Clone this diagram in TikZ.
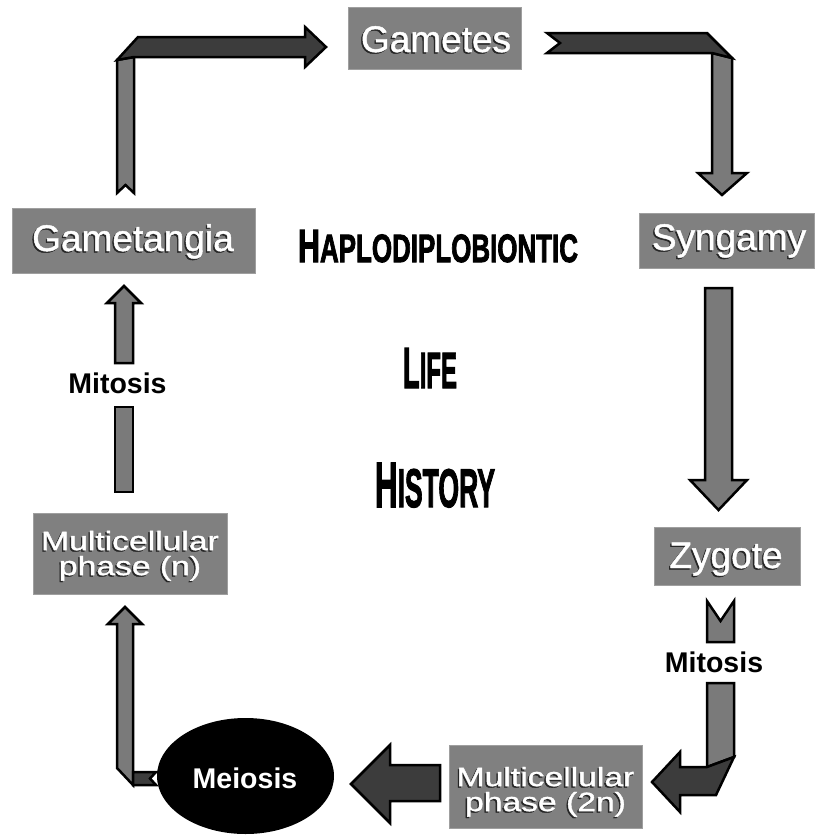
\documentclass[tikz,border=0pt]{standalone}
\usepackage{fontspec}
\setmainfont{Liberation Sans}
\newfontfamily\titlefam{Liberation Sans}[BoldFeatures={FakeBold=2.5}]
\newfontfamily\boxfam{Liberation Sans}[FakeBold=1.2]
\usetikzlibrary{shapes.geometric}
\definecolor{boxgray}{RGB}{128,128,128}
\definecolor{arrgray}{RGB}{122,122,122}
\definecolor{arrdark}{RGB}{60,60,60}
\newcommand\boxfont{\boxfam\fontsize{37}{40}\selectfont}
\newcommand\twofont{\boxfam\fontsize{26.5}{25}\selectfont}
\newcommand\labfont{\fontsize{28.5}{30}\selectfont\bfseries}
\newcommand\emtext[4]{%
  \node[gtxt,text=black!85,font=#3] (#1-s) at ([xshift=-1.4pt,yshift=-1.4pt]#2) {#4};
  \node[gtxt,text=white,font=#3] (#1) at (#2) {#4};}
\newcommand\emtwo[4]{%
  \node[gtwo,text=black!85] (#1-s) at ([xshift=-1.4pt,yshift=-1.4pt]#2) {\scalebox{1.27}[1]{#3}\\\scalebox{1.27}[1]{#4}};
  \node[gtwo,text=white] (#1) at (#2) {\scalebox{1.27}[1]{#3}\\\scalebox{1.27}[1]{#4}};}
\begin{document}
\begin{tikzpicture}[x=1pt,y=-1pt,
  gbox/.style={rectangle,fill=boxgray,draw=gray!75,line width=0.8pt,inner sep=0pt},
  gtxt/.style={anchor=base,inner sep=0pt},
  gtwo/.style={anchor=north,inner sep=0pt,align=center,font=\twofont},
  garrow/.style={draw=black,line width=2.5pt,line join=miter,fill=arrgray},
  darrow/.style={draw=black,line width=2.5pt,line join=miter,fill=arrdark},
  mlabel/.style={anchor=base,inner sep=0pt,font=\labfont,text=black},
  ttl/.style={anchor=base,inner sep=0pt,font=\titlefam\bfseries,text=black}]
\useasboundingbox (0,0) rectangle (814,835);
\fill[white] (0,0) rectangle (814,835);

% ---------- boxes ----------
\node[gbox,minimum width=173pt,minimum height=62pt] (gametes) at (434.5,38) {};
\node[gbox,minimum width=175pt,minimum height=55pt] (syngamy) at (726.5,240.5) {};
\node[gbox,minimum width=243pt,minimum height=65pt] (gametangia) at (133.5,240.5) {};
\node[gbox,minimum width=146pt,minimum height=58pt] (zygote) at (727,556) {};
\node[gbox,minimum width=194pt,minimum height=81pt] (multin) at (130,553.5) {};
\node[gbox,minimum width=193pt,minimum height=83pt] (multi2n) at (545.5,787) {};

\emtext{tgametes}{436,52}{\boxfont}{Gametes}
\emtext{tgametangia}{133,251}{\boxfont}{Gametangia}
\emtext{tsyngamy}{729,250}{\boxfont}{Syngamy}
\emtext{tzygote}{726,568}{\boxfont}{Zygote}
\emtwo{tmultin}{130,530.7}{Multicellular}{phase (n)}
\emtwo{tmulti2n}{545.5,766.7}{Multicellular}{phase (2n)}

% ---------- title ----------
\node[ttl] (haplo) at (438,262) {\resizebox{280pt}{32pt}{{\fontsize{40}{40}\selectfont H}{\fontsize{34}{34}\selectfont APLODIPLOBIONTIC}}};
\node[ttl] (life) at (430,388) {\resizebox{54pt}{40pt}{{\fontsize{40}{40}\selectfont L}{\fontsize{35}{35}\selectfont IFE}}};
\node[ttl] (history) at (435,507) {\resizebox{120pt}{44pt}{{\fontsize{40}{40}\selectfont H}{\fontsize{34}{34}\selectfont ISTORY}}};

% ---------- Gametangia -> Gametes ----------
\draw[garrow] (117,60) -- (134,57) -- (134,193) -- (125.5,185) -- (117,193) -- cycle;
\draw[darrow] (117,60) -- (138,37) -- (305,37) -- (305,27) -- (326,47) -- (305,67) -- (305,57) -- (134,57) -- cycle;

% ---------- Gametes -> Syngamy ----------
\draw[garrow] (712,53) -- (732,58) -- (732,173) -- (747,173) -- (722,195) -- (698,173) -- (712,173) -- cycle;
\draw[darrow] (547,33) -- (707,33) -- (732,58) -- (712,53) -- (547,53) -- (560,43) -- cycle;

% ---------- Syngamy -> Zygote ----------
\draw[garrow] (705,288) -- (732,288) -- (732,480) -- (747,480) -- (718.5,510) -- (690,480) -- (705,480) -- cycle;

% ---------- Zygote -> Multicellular (2n) ----------
\draw[garrow] (707,601) -- (720.5,621) -- (734,601) -- (734,642) -- (707,642) -- cycle;
\node[mlabel] (mitR) at (714,672) {Mitosis};
\draw[garrow] (707,683) -- (734,683) -- (734,757) -- (707,767) -- cycle;
\draw[darrow] (707,767) -- (734,757) -- (716,795) -- (680,795) -- (680,812) -- (652,782) -- (680,752) -- (680,767) -- cycle;

% ---------- Multicellular (2n) -> Meiosis ----------
\draw[darrow] (440,765) -- (440,801) -- (390,801) -- (390,823) -- (351,784) -- (390,745) -- (390,765) -- cycle;

% ---------- Meiosis -> Multicellular (n) ----------
\draw[garrow] (108,624) -- (125,607) -- (142,624) -- (133,624) -- (133,785) -- (117,768) -- (117,624) -- cycle;
\draw[darrow] (133,772) -- (156,772) -- (150,778.5) -- (156,785) -- (133,785) -- cycle;
\node[ellipse,fill=black,minimum width=177pt,minimum height=116pt,inner sep=0pt] (meiosis) at (245.5,776) {};
\node[gtxt,text=white,font=\labfont] (tmeiosis) at (245,788) {Meiosis};

% ---------- Multicellular (n) -> Gametangia ----------
\draw[garrow] (124,286) -- (141,303) -- (133,303) -- (133,363) -- (115,363) -- (115,303) -- (107,303) -- cycle;
\node[mlabel] (mitL) at (117.5,393) {Mitosis};
\draw[garrow] (115,407) rectangle (133,492);
\end{tikzpicture}
\end{document}
